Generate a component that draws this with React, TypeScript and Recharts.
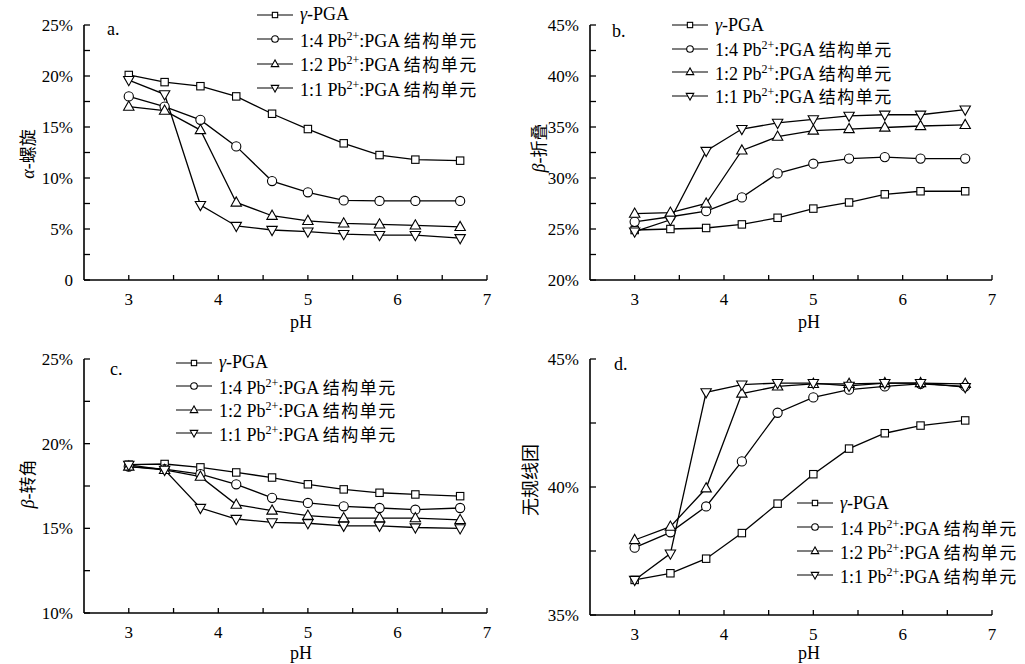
import React from 'react';
import { LineChart, Line, XAxis, YAxis } from 'recharts';

// ---------- data ----------
const pH = [3, 3.4, 3.8, 4.2, 4.6, 5, 5.4, 5.8, 6.2, 6.7];

const seriesNames = ['γ-PGA', '1:4', '1:2', '1:1'];
const seriesShapes = ['square', 'circle', 'up', 'down'];

// a. α-helix
const helixPGA = [20.1, 19.4, 19.0, 18.0, 16.3, 14.8, 13.4, 12.25, 11.8, 11.7];
const helix14 = [18.0, 17.0, 15.7, 13.1, 9.7, 8.6, 7.8, 7.75, 7.75, 7.75];
const helix12 = [17.0, 16.6, 14.7, 7.6, 6.3, 5.8, 5.55, 5.45, 5.35, 5.2];
const helix11 = [19.6, 18.2, 7.35, 5.3, 4.9, 4.75, 4.5, 4.4, 4.4, 4.1];

// b. β-sheet
const sheetPGA = [24.9, 25.0, 25.1, 25.45, 26.1, 27.0, 27.6, 28.4, 28.7, 28.7];
const sheet14 = [25.7, 26.2, 26.75, 28.1, 30.45, 31.4, 31.9, 32.05, 31.9, 31.9];
const sheet12 = [26.5, 26.6, 27.5, 32.7, 34.05, 34.65, 34.8, 34.95, 35.1, 35.2];
const sheet11 = [24.75, 25.9, 32.65, 34.8, 35.4, 35.75, 36.1, 36.2, 36.2, 36.7];

// c. β-turn
const turnPGA = [18.76, 18.8, 18.6, 18.3, 18.0, 17.6, 17.3, 17.1, 17.0, 16.9];
const turn14 = [18.65, 18.5, 18.2, 17.6, 16.8, 16.5, 16.3, 16.2, 16.1, 16.2];
const turn12 = [18.65, 18.45, 18.05, 16.4, 16.05, 15.75, 15.6, 15.6, 15.6, 15.5];
const turn11 = [18.75, 18.45, 16.2, 15.55, 15.35, 15.3, 15.15, 15.15, 15.05, 15.0];

// d. random coil
const coilPGA = [36.37, 36.63, 37.2, 38.2, 39.35, 40.5, 41.5, 42.1, 42.4, 42.6];
const coil14 = [37.63, 38.23, 39.24, 41.0, 42.9, 43.5, 43.8, 43.93, 44.03, 43.93];
const coil12 = [37.93, 38.45, 39.95, 43.65, 43.93, 44.03, 44.03, 44.06, 44.06, 44.03];
const coil11 = [36.37, 37.4, 43.7, 44.0, 44.06, 44.06, 43.95, 44.06, 44.06, 43.9];

const xTicks = [3, 3.5, 4, 4.5, 5, 5.5, 6, 6.5, 7];
const yTicksA = [0, 2.5, 5, 7.5, 10, 12.5, 15, 17.5, 20, 22.5, 25];
const yTicksB = [20, 22.5, 25, 27.5, 30, 32.5, 35, 37.5, 40, 42.5, 45];
const yTicksC = [10, 12.5, 15, 17.5, 20, 22.5, 25];
const yTicksD = [35, 37.5, 40, 42.5, 45];

const build = (s: number[][]) =>
  pH.map((p, i) => ({ pH: p, s0: s[0][i], s1: s[1][i], s2: s[2][i], s3: s[3][i] }));

const FONT = "'Liberation Serif', 'DejaVu Serif', serif";
const CJK = "'Noto Sans CJK SC', sans-serif";

// ---------- markers ----------
function Marker({ shape, cx, cy, s = 1 }: { shape: string; cx: number; cy: number; s?: number }) {
  const common = { fill: '#fff', stroke: '#000', strokeWidth: 1.1 };
  if (shape === 'square') {
    const h = 3.7 * s;
    return <rect x={cx - h} y={cy - h} width={2 * h} height={2 * h} {...common} />;
  }
  if (shape === 'circle') return <circle cx={cx} cy={cy} r={4.6 * s} {...common} />;
  if (shape === 'up') {
    const pts = `${cx},${cy - 5.6 * s} ${cx - 5.2 * s},${cy + 3.6 * s} ${cx + 5.2 * s},${cy + 3.6 * s}`;
    return <polygon points={pts} {...common} />;
  }
  const pts = `${cx},${cy + 5.6 * s} ${cx - 5.2 * s},${cy - 3.6 * s} ${cx + 5.2 * s},${cy - 3.6 * s}`;
  return <polygon points={pts} {...common} />;
}

const dotFor = (shape: string) => (props: any) => {
  const { cx, cy, index } = props;
  if (cx == null || cy == null) return <g key={`${shape}-${index}`} />;
  return (
    <g key={`${shape}-${index}`}>
      <Marker shape={shape} cx={cx} cy={cy} />
    </g>
  );
};

// ---------- legend ----------
function LegendLabel({ i }: { i: number }) {
  if (i === 0)
    return (
      <span>
        <i>γ</i>-PGA
      </span>
    );
  return (
    <span>
      {seriesNames[i]} Pb<sup style={{ fontSize: 12, lineHeight: 0 }}>2+</sup>:PGA{' '}
      <span style={{ fontFamily: CJK, fontSize: 17, letterSpacing: 1.5 }}>结构单元</span>
    </span>
  );
}

function LegendBox({ left, top, gap }: { left: number; top: number; gap: number }) {
  return (
    <div style={{ position: 'absolute', left, top: top - gap / 2, fontFamily: FONT, fontSize: 18, color: '#000' }}>
      {seriesShapes.map((sh, i) => (
        <div key={sh} style={{ height: gap, display: 'flex', alignItems: 'center', whiteSpace: 'nowrap' }}>
          <svg width={36} height={14} style={{ marginRight: 7, overflow: 'visible' }}>
            <line x1={0} x2={36} y1={7} y2={7} stroke="#000" strokeWidth={1.2} />
            <Marker shape={sh} cx={18} cy={7} s={0.72} />
          </svg>
          <LegendLabel i={i} />
        </div>
      ))}
    </div>
  );
}

// ---------- panel ----------
type PanelProps = {
  left: number;
  top: number;
  w: number;
  h: number;
  px0: number;
  px1: number;
  py0: number;
  py1: number;
  yDomain: [number, number];
  yTicks: number[];
  zeroPlain?: boolean;
  data: any[];
  tag: string;
  tagPos: [number, number];
  yLabel: React.ReactNode;
  yLabelPos: [number, number];
  xLabelPos: [number, number];
  legend: [number, number, number];
};

function Panel(p: PanelProps) {
  const yFmt = (v: number) => {
    if (Math.abs(v % 5) > 1e-6) return '';
    if (v === 0 && p.zeroPlain) return '0';
    return `${v}%`;
  };
  const xFmt = (v: number) => (Math.abs(v % 1) > 1e-6 ? '' : String(v));
  const tickStyle = { fill: '#000', fontSize: 17, fontFamily: FONT };
  return (
    <>
      <div style={{ position: 'absolute', left: p.left, top: p.top }}>
        <LineChart
          width={p.w}
          height={p.h}
          data={p.data}
          style={{ fontFamily: FONT }}
          margin={{ top: p.py0 - p.top, right: p.left + p.w - p.px1, left: 0, bottom: 0 }}
        >
          <XAxis
            dataKey="pH"
            type="number"
            domain={[2.5, 7]}
            ticks={xTicks}
            interval={0}
            allowDataOverflow
            tickFormatter={xFmt}
            tickSize={-5}
            tickMargin={18}
            height={p.top + p.h - p.py1}
            axisLine={{ stroke: '#000', strokeWidth: 1.6 }}
            tickLine={{ stroke: '#000', strokeWidth: 1.3 }}
            tick={tickStyle}
          />
          <YAxis
            type="number"
            domain={p.yDomain}
            ticks={p.yTicks}
            interval={0}
            allowDataOverflow
            tickFormatter={yFmt}
            tickSize={-6}
            tickMargin={17}
            width={p.px0 - p.left}
            axisLine={{ stroke: '#000', strokeWidth: 1.6 }}
            tickLine={{ stroke: '#000', strokeWidth: 1.3 }}
            tick={tickStyle}
          />
          {seriesShapes.map((sh, i) => (
            <Line
              key={sh}
              dataKey={`s${i}`}
              type="linear"
              stroke="#000"
              strokeWidth={1.3}
              dot={dotFor(sh)}
              activeDot={false}
              isAnimationActive={false}
            />
          ))}
        </LineChart>
      </div>
      <div
        style={{
          position: 'absolute',
          left: p.tagPos[0],
          top: p.tagPos[1],
          fontFamily: FONT,
          fontSize: 18,
          lineHeight: '18px',
        }}
      >
        {p.tag}
      </div>
      <div
        style={{
          position: 'absolute',
          left: p.yLabelPos[0],
          top: p.yLabelPos[1],
          transform: 'translate(-50%, -50%) rotate(-90deg)',
          fontFamily: FONT,
          fontSize: 18,
          whiteSpace: 'nowrap',
          lineHeight: '18px',
        }}
      >
        {p.yLabel}
      </div>
      <div
        style={{
          position: 'absolute',
          left: p.xLabelPos[0],
          top: p.xLabelPos[1],
          transform: 'translate(-50%, -50%)',
          fontFamily: FONT,
          fontSize: 18,
          lineHeight: '18px',
        }}
      >
        pH
      </div>
      <LegendBox left={p.legend[0]} top={p.legend[1]} gap={p.legend[2]} />
    </>
  );
}

export default function App() {
  return (
    <div
      style={{
        position: 'absolute',
        left: 0,
        top: 0,
        width: 1025,
        height: 664,
        background: '#fff',
        overflow: 'hidden',
      }}
    >
      <Panel
        left={0}
        top={0}
        w={512}
        h={330}
        px0={84}
        px1={487}
        py0={25}
        py1={280}
        yDomain={[0, 25]}
        yTicks={yTicksA}
        zeroPlain
        data={build([helixPGA, helix14, helix12, helix11])}
        tag="a."
        tagPos={[107, 20]}
        yLabel={
          <span>
            <i>α</i>-<span style={{ fontFamily: CJK, fontSize: 17 }}>螺旋</span>
          </span>
        }
        yLabelPos={[27, 154]}
        xLabelPos={[301, 322]}
        legend={[257, 15, 24.4]}
      />
      <Panel
        left={512}
        top={0}
        w={513}
        h={330}
        px0={590}
        px1={992}
        py0={25}
        py1={280}
        yDomain={[20, 45]}
        yTicks={yTicksB}
        data={build([sheetPGA, sheet14, sheet12, sheet11])}
        tag="b."
        tagPos={[612, 22]}
        yLabel={
          <span>
            <i>β</i>-<span style={{ fontFamily: CJK, fontSize: 17 }}>折叠</span>
          </span>
        }
        yLabelPos={[538, 148]}
        xLabelPos={[809, 322]}
        legend={[672, 25, 23.5]}
      />
      <Panel
        left={0}
        top={330}
        w={512}
        h={334}
        px0={84}
        px1={487}
        py0={359}
        py1={613}
        yDomain={[10, 25]}
        yTicks={yTicksC}
        data={build([turnPGA, turn14, turn12, turn11])}
        tag="c."
        tagPos={[110, 360]}
        yLabel={
          <span>
            <i>β</i>-<span style={{ fontFamily: CJK, fontSize: 17 }}>转角</span>
          </span>
        }
        yLabelPos={[27, 484]}
        xLabelPos={[301, 653]}
        legend={[176, 363, 23.4]}
      />
      <Panel
        left={512}
        top={330}
        w={513}
        h={334}
        px0={590}
        px1={992}
        py0={359}
        py1={615}
        yDomain={[35, 45]}
        yTicks={yTicksD}
        data={build([coilPGA, coil14, coil12, coil11])}
        tag="d."
        tagPos={[614, 355]}
        yLabel={<span style={{ fontFamily: CJK, fontSize: 18 }}>无规线团</span>}
        yLabelPos={[530, 480]}
        xLabelPos={[809, 653]}
        legend={[797, 503, 24]}
      />
    </div>
  );
}
